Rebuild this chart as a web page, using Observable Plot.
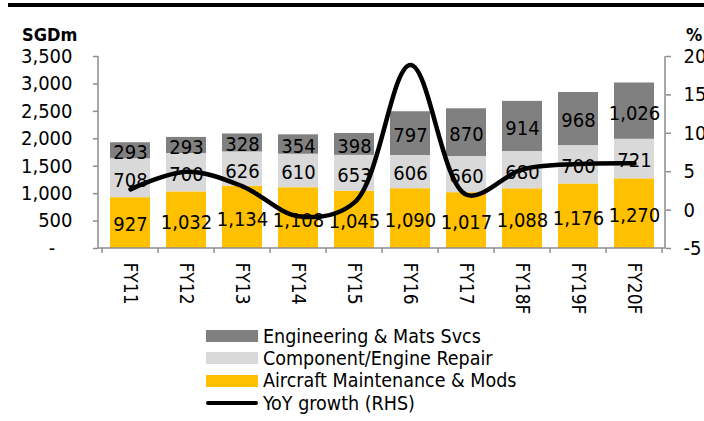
<!DOCTYPE html>
<html>
<head>
<meta charset="utf-8">
<script src="https://cdn.jsdelivr.net/npm/d3@7"></script>
<script src="https://cdn.jsdelivr.net/npm/@observablehq/plot@0.6"></script>
<style>
  body { margin: 0; background: #fff; }
  #wrap { position: relative; width: 704px; height: 421px; overflow: hidden;
          font-family: "DejaVu Sans Condensed", "DejaVu Sans", sans-serif; font-stretch: condensed; color: #000; }
  #wrap svg { position: absolute; left: 0; top: 0; }
  .topline { position: absolute; left: 8px; top: 3px; width: 696px; height: 4px; background: #000; }
  .unit { position: absolute; font-weight: bold; font-size: 18px; line-height: 18px; }
  .legend { position: absolute; left: 206px; top: 325px; font-size: 19.5px; }
  .legend .row { display: flex; align-items: center; height: 22.3px; white-space: nowrap; }
  .legend .sw { width: 52px; height: 12px; margin-right: 5px; flex: none; }
  .legend .ln { width: 52px; height: 4px; border-radius: 2px; background: #000; margin-right: 5px; flex: none; }
</style>
</head>
<body>
<div id="wrap"></div>
<script>
// ---- data ----
const years = ["FY11", "FY12", "FY13", "FY14", "FY15", "FY16", "FY17", "FY18F", "FY19F", "FY20F"];
const aircraft = [927, 1032, 1134, 1108, 1045, 1090, 1017, 1088, 1176, 1270];
const component = [708, 700, 626, 610, 653, 606, 660, 680, 700, 721];
const engineering = [293, 293, 328, 354, 398, 797, 870, 914, 968, 1026];
const growth = [2.7, 5.0, 3.1, -0.8, 1.0, 18.9, 2.0, 5.3, 6.0, 6.1];
const seriesNames = ["Engineering & Mats Svcs", "Component/Engine Repair", "Aircraft Maintenance & Mods"];
const seriesColors = ["#808080", "#d9d9d9", "#ffc000"];
const lineName = "YoY growth (RHS)";
const leftTicks = [0, 500, 1000, 1500, 2000, 2500, 3000, 3500];
const rightTicks = [-5, 0, 5, 10, 15, 20];
const leftUnit = "SGDm";
const rightUnit = "%";

// ---- derived tables ----
const leftMax = leftTicks[leftTicks.length - 1];
const rMin = rightTicks[0], rMax = rightTicks[rightTicks.length - 1];
const pctToLeft = p => (p - rMin) * leftMax / (rMax - rMin);
const leftToPct = v => v * (rMax - rMin) / leftMax + rMin;

const seriesValues = {
  [seriesNames[0]]: engineering,
  [seriesNames[1]]: component,
  [seriesNames[2]]: aircraft
};
const stackOrder = [seriesNames[2], seriesNames[1], seriesNames[0]];
const rows = [];
years.forEach((yr, i) => stackOrder.forEach(s => rows.push({year: yr, series: s, value: seriesValues[s][i]})));
const lineRows = years.map((yr, i) => ({year: yr, pct: growth[i]}));

const fmt = d3.format(",");
const axisColor = "#8c8c8c";
const font = `"DejaVu Sans Condensed", "DejaVu Sans", sans-serif`;

function axesFrame(index, scales, values, dimensions) {
  const {x, y} = scales;
  const {width, marginLeft, marginRight} = dimensions;
  const x0 = marginLeft, x1 = width - marginRight;
  const yb = y(0), yt = y(leftMax);
  const g = d3.create("svg:g").attr("fill", "none").attr("stroke", axisColor).attr("stroke-width", 1.5);
  g.append("path").attr("d", `M${x0},${yt}V${yb}H${x1}V${yt}`);
  const pad = (x.step() - x.bandwidth()) / 2;
  const bounds = years.map(c => x(c) - pad).concat([x(years[years.length - 1]) + x.bandwidth() + pad]);
  bounds.forEach(b => g.append("line").attr("x1", b).attr("x2", b).attr("y1", yb).attr("y2", yb + 5));
  return g.node();
}

const plot = Plot.plot({
  width: 704,
  height: 421,
  marginLeft: 98,
  marginRight: 39,
  marginTop: 56,
  marginBottom: 173,
  style: {fontFamily: font, fontSize: "20px", background: "transparent", color: "#000"},
  x: {domain: years, paddingInner: 0.29, paddingOuter: 0.145, label: null},
  y: {domain: [0, leftMax], label: null},
  color: {domain: seriesNames, range: seriesColors},
  marks: [
    Plot.barY(rows, {x: "year", y: "value", fill: "series", z: "series", order: stackOrder}),
    Plot.text(rows, Plot.stackY({x: "year", y: "value", z: "series", order: stackOrder,
      text: d => fmt(d.value), fill: "#000", fontSize: 20, dy: 2})),
    Plot.line(lineRows, {x: "year", y: d => pctToLeft(d.pct), stroke: "#000", strokeWidth: 4.5,
      curve: "catmull-rom", strokeLinecap: "round"}),
    axesFrame,
    Plot.axisY({ticks: leftTicks, tickSize: 5, tickPadding: 21, stroke: axisColor, strokeWidth: 1.5,
      tickFormat: d => d === 0 ? "-\u00a0\u00a0\u00a0" : fmt(d), fontSize: 20, label: null}),
    Plot.axisY({anchor: "right", ticks: rightTicks.map(pctToLeft), tickSize: 5, tickPadding: 13,
      stroke: axisColor, strokeWidth: 1.5, tickFormat: d => String(Math.round(leftToPct(d))),
      fontSize: 20, label: null}),
    Plot.axisX({tickSize: 0, tickRotate: 90, tickPadding: 14, fontSize: 19, label: null})
  ]
});

const wrap = document.getElementById("wrap");
wrap.appendChild(plot);

const topLine = document.createElement("div");
topLine.className = "topline";
wrap.appendChild(topLine);

const lu = document.createElement("div");
lu.className = "unit"; lu.textContent = leftUnit;
lu.style.left = "22px"; lu.style.top = "26px";
wrap.appendChild(lu);

const ru = document.createElement("div");
ru.className = "unit"; ru.textContent = rightUnit;
ru.style.left = "686px"; ru.style.top = "26px";
wrap.appendChild(ru);

const legend = document.createElement("div");
legend.className = "legend";
seriesNames.forEach((s, i) => {
  const r = document.createElement("div"); r.className = "row";
  const sw = document.createElement("div"); sw.className = "sw"; sw.style.background = seriesColors[i];
  const t = document.createElement("span"); t.textContent = s;
  r.appendChild(sw); r.appendChild(t); legend.appendChild(r);
});
{
  const r = document.createElement("div"); r.className = "row";
  const ln = document.createElement("div"); ln.className = "ln";
  const t = document.createElement("span"); t.textContent = lineName;
  r.appendChild(ln); r.appendChild(t); legend.appendChild(r);
}
wrap.appendChild(legend);
</script>
</body>
</html>
